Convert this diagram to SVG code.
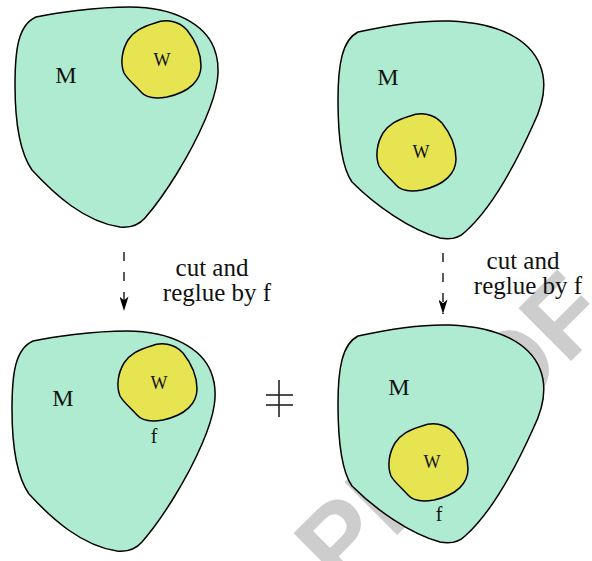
<svg xmlns="http://www.w3.org/2000/svg" width="592" height="561" viewBox="0 0 592 561">
<style>
.m{fill:#aeebd0;stroke:#000;stroke-width:1.5;stroke-linejoin:round}
.w{fill:#e6e450;stroke:#000;stroke-width:1.5;stroke-linejoin:round}
.t{font-family:"Liberation Serif","Times New Roman",serif;fill:#111;text-anchor:middle}
.sm{font-size:18px}
.lab{font-size:24px}
.ff{font-size:20px}
.wm{font-family:"Liberation Sans",Arial,sans-serif;font-weight:bold;font-size:108px;fill:#cdcdcd}
.dash{stroke:#000;stroke-width:1.3;fill:none;stroke-dasharray:9 11}
.ne{stroke:#222;stroke-width:1.6}
</style>
<defs>
<path id="shapeA" d="M36,17 C55,13 95,7 130,7 C175,7 205,25 214,48 C222,68 218,90 205,120 C190,155 165,195 145,218 C138,226 130,228 120,227 C85,222 55,195 32,170 C18,150 15,115 15,85 C15,50 18,25 36,17 Z"/>
<path id="shapeB" d="M358,32 C385,26 420,20 450,21 C500,23 530,40 540,65 C548,85 543,105 533,125 C515,165 490,210 465,232 C458,239 450,240 440,238 C410,230 375,205 352,182 C340,165 338,130 338,100 C338,65 342,40 358,32 Z"/>
<path id="blob" d="M-6,-37 C4,-41 17,-40 26,-30 C34,-20 40,-8 40,6 C40,20 29,32 6,37 C-6,39 -15,38 -20,32 C-25,26 -33,20 -37,13 C-41,3 -39,-10 -33,-20 C-27,-29 -19,-33 -6,-37 Z"/>
<marker id="ah" viewBox="0 0 16 10" refX="16" refY="5" markerWidth="15" markerHeight="9" markerUnits="userSpaceOnUse" orient="auto">
<path d="M0,0 L16,5 L0,10 L4,5 Z" fill="#000"/>
</marker>
</defs>
<text class="wm" transform="translate(341,591) rotate(-45)">PROOF</text>
<g id="top-left">
<use href="#shapeA" class="m"/>
<use href="#blob" class="w" transform="translate(161,60)"/>
<text class="t lab" font-family="Liberation Serif, serif" x="66" y="83">M</text>
<text class="t sm" font-family="Liberation Serif, serif" x="162" y="66">W</text>
</g>
<g id="top-right">
<use href="#shapeB" class="m"/>
<use href="#blob" class="w" transform="translate(416,153)"/>
<text class="t lab" font-family="Liberation Serif, serif" x="388" y="85">M</text>
<text class="t sm" font-family="Liberation Serif, serif" x="421" y="158">W</text>
</g>
<g id="bottom-left">
<use href="#shapeA" class="m" transform="translate(-3,324)"/>
<use href="#blob" class="w" transform="translate(157,383)"/>
<text class="t lab" font-family="Liberation Serif, serif" x="63" y="406">M</text>
<text class="t sm" font-family="Liberation Serif, serif" x="159" y="389">W</text>
<text class="t ff" font-family="Liberation Serif, serif" x="154" y="443">f</text>
</g>
<g id="bottom-right">
<use href="#shapeB" class="m" transform="translate(0,304)"/>
<use href="#blob" class="w" transform="translate(428,463)"/>
<text class="t lab" font-family="Liberation Serif, serif" x="399" y="395">M</text>
<text class="t sm" font-family="Liberation Serif, serif" x="432" y="468">W</text>
<text class="t ff" font-family="Liberation Serif, serif" x="439" y="521">f</text>
</g>
<g id="connectors">
<line class="dash" x1="124" y1="252" x2="124" y2="311" marker-end="url(#ah)"/>
<line class="dash" x1="443" y1="253" x2="443" y2="314" marker-end="url(#ah)"/>
</g>
<g id="labels">
<text class="t" font-family="Liberation Serif, serif" font-size="25" x="212" y="276">cut and</text>
<text class="t" font-family="Liberation Serif, serif" font-size="25" x="217" y="301">reglue by f</text>
<text class="t" font-family="Liberation Serif, serif" font-size="25" x="523" y="269">cut and</text>
<text class="t" font-family="Liberation Serif, serif" font-size="25" x="528" y="294">reglue by f</text>
</g>
<g id="not-equal">
<line class="ne" x1="279" y1="380" x2="279" y2="417"/>
<line class="ne" x1="266" y1="395" x2="293" y2="395"/>
<line class="ne" x1="266" y1="405" x2="293" y2="405"/>
</g>
</svg>
